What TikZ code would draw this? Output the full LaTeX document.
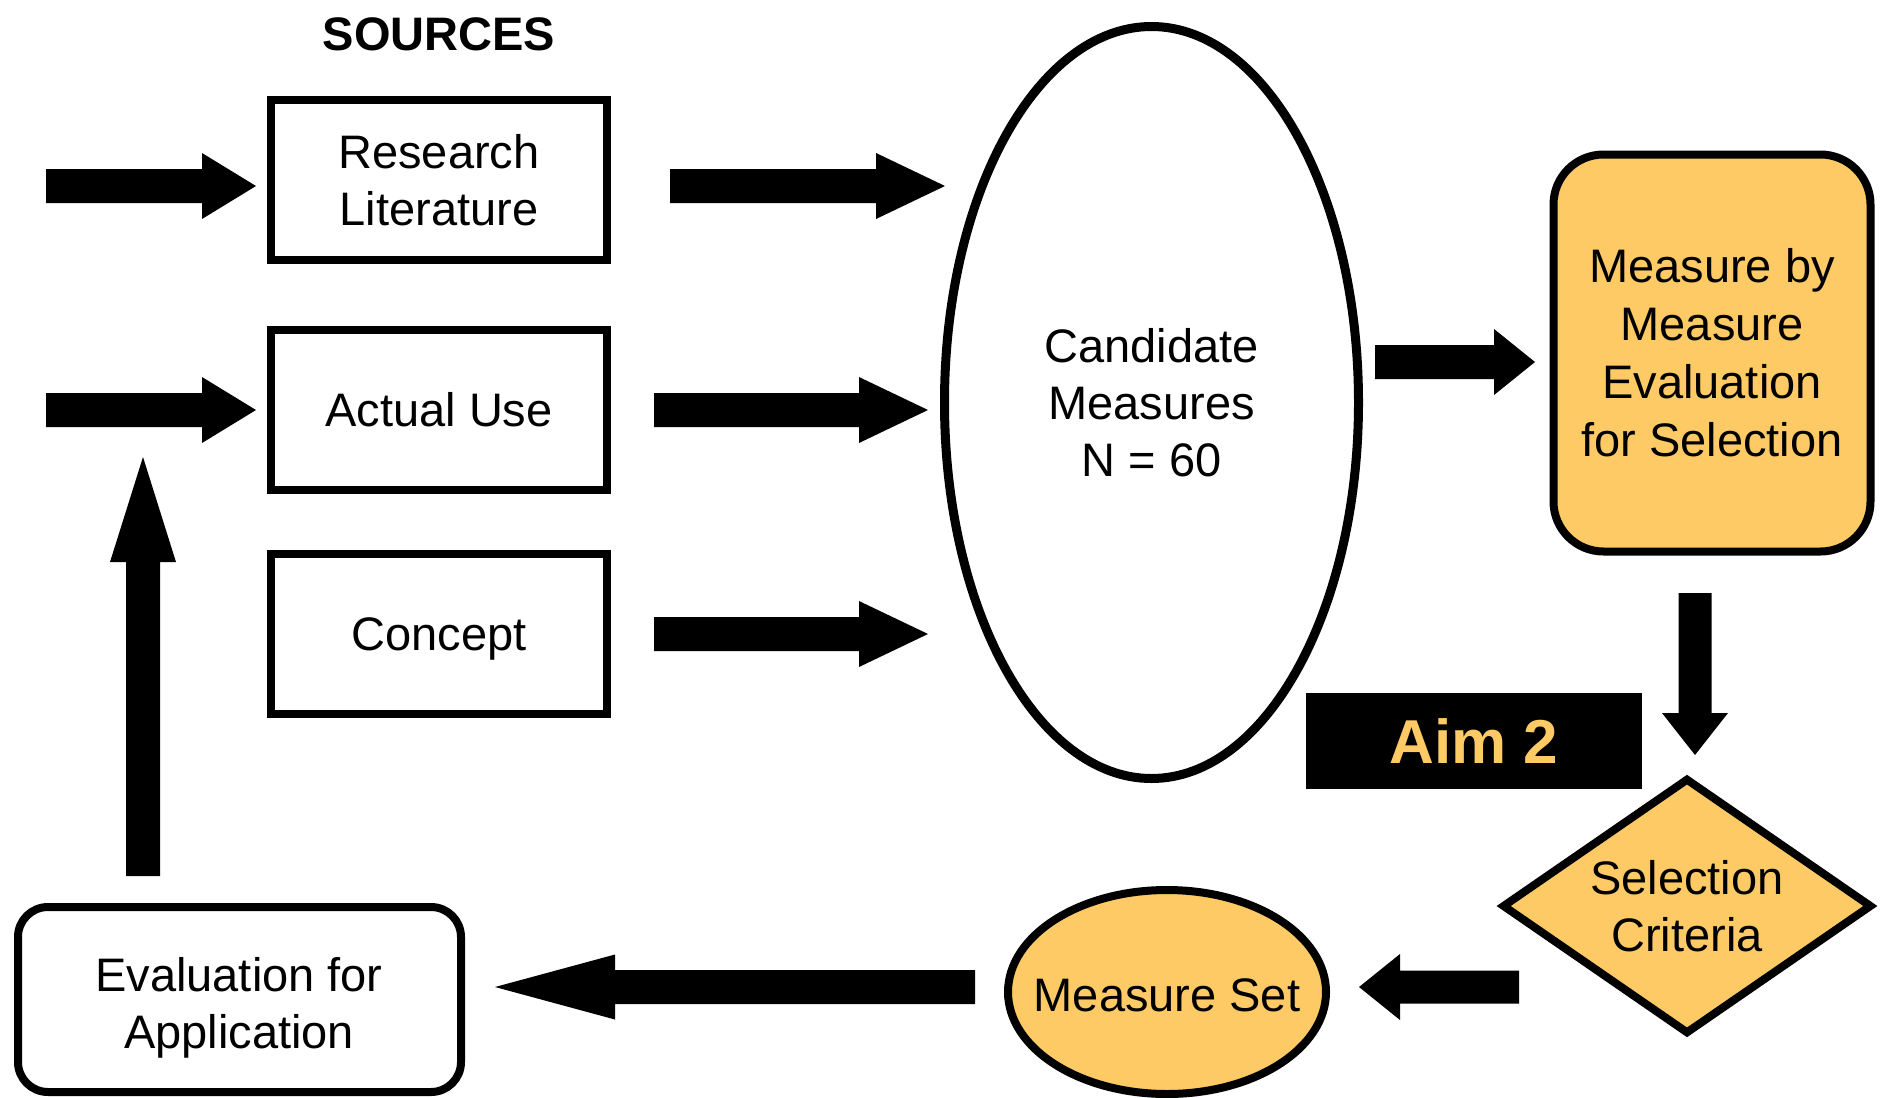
\documentclass[tikz,border=0pt]{standalone}
\usepackage{fontspec}
\setmainfont{Liberation Sans}
\usetikzlibrary{shapes.geometric,calc}
\definecolor{gold}{HTML}{FECA66}
% #1 start coordinate, #2 tip coordinate, #3 half shaft width, #4 half head width, #5 head length
\newcommand{\fatarrow}[5]{%
  \coordinate (#1-hb) at ($(#2)!#5!(#1)$);
  \fill[black] ($(#1)!#3!90:(#2)$) -- ($(#1-hb)!#3!90:(#2)$) -- ($(#1-hb)!#4!90:(#2)$)
    -- (#2) -- ($(#1-hb)!#4!-90:(#2)$) -- ($(#1-hb)!#3!-90:(#2)$) -- ($(#1)!#3!-90:(#2)$) -- cycle;
}
\begin{document}
\begin{tikzpicture}[x=1pt,y=-1pt,
  every node/.style={font=\fontsize{47}{57}\selectfont, align=center, inner sep=0pt},
  srcbox/.style={draw, line width=8pt, rectangle, minimum width=336pt, minimum height=160pt},
  goldshape/.style={draw, line width=8pt, fill=gold}]
\useasboundingbox (0,0) rectangle (1883,1098);

% nodes
\node[font=\bfseries\fontsize{47}{57}\selectfont, anchor=base] (src) at (439,50) {SOURCES};
\node[srcbox] (lit) at (439,180) {Research\\Literature};
\node[srcbox] (use) at (439,410) {Actual Use};
\node[srcbox, text depth=0pt] (con) at (439,634) {Concept};
\node[draw, ellipse, line width=9pt, minimum width=414pt, minimum height=752pt] (cand) at (1151.5,402.5) {Candidate\\Measures\\N = 60};
\node[goldshape, rounded corners=50pt, minimum width=317pt, minimum height=397pt, font=\fontsize{47}{58}\selectfont] (mbm) at (1712,353) {Measure by\\Measure\\Evaluation\\for Selection};
\node[fill=black, minimum width=336pt, minimum height=96pt, text=gold, font=\bfseries\fontsize{62}{70}\selectfont] (aim) at (1474,741) {Aim 2};
\node[goldshape, diamond, shape aspect=1.45, minimum width=370pt, minimum height=256pt] (crit) at (1687,906) {Selection\\Criteria};
\node[goldshape, ellipse, minimum width=318pt, minimum height=204pt, text height=38pt, text depth=0pt] (mset) at (1167,992) {\makebox[0pt]{Measure Set}};
\node[draw, line width=8pt, rounded corners=30pt, minimum width=443pt, minimum height=185pt] (evalb) at (239.5,999.5) {};
\node (evalt) at (239,1008) {Evaluation for\\Application};

% arrow end points
\coordinate (in1) at (46,186);   \coordinate (in1t) at (256,186);
\coordinate (in2) at (46,410);   \coordinate (in2t) at (256,410);
\coordinate (o1) at (670,186);   \coordinate (o1t) at (945,186);
\coordinate (o2) at (654,410);   \coordinate (o2t) at (928,410);
\coordinate (o3) at (654,634);   \coordinate (o3t) at (928,634);
\coordinate (up) at (143,876);   \coordinate (upt) at (143,457);
\coordinate (cm) at (1375,362);  \coordinate (cmt) at (1535,362);
\coordinate (dn) at (1695,593);  \coordinate (dnt) at (1695,755);
\coordinate (cs) at (1519,987);  \coordinate (cst) at (1359,987);
\coordinate (se) at (975,987);   \coordinate (set) at (495,987);

% arrows
\fatarrow{in1}{in1t}{17pt}{33pt}{54pt}
\fatarrow{in2}{in2t}{17pt}{33pt}{54pt}
\fatarrow{o1}{o1t}{17pt}{33pt}{69pt}
\fatarrow{o2}{o2t}{17pt}{33pt}{69pt}
\fatarrow{o3}{o3t}{17pt}{33pt}{69pt}
\fatarrow{up}{upt}{17pt}{33pt}{105pt}
\fatarrow{cm}{cmt}{17pt}{33pt}{41pt}
\fatarrow{dn}{dnt}{16.5pt}{33pt}{42pt}
\fatarrow{cs}{cst}{16.5pt}{33pt}{41pt}
\fatarrow{se}{set}{17pt}{32.5pt}{120pt}
\end{tikzpicture}
\end{document}
